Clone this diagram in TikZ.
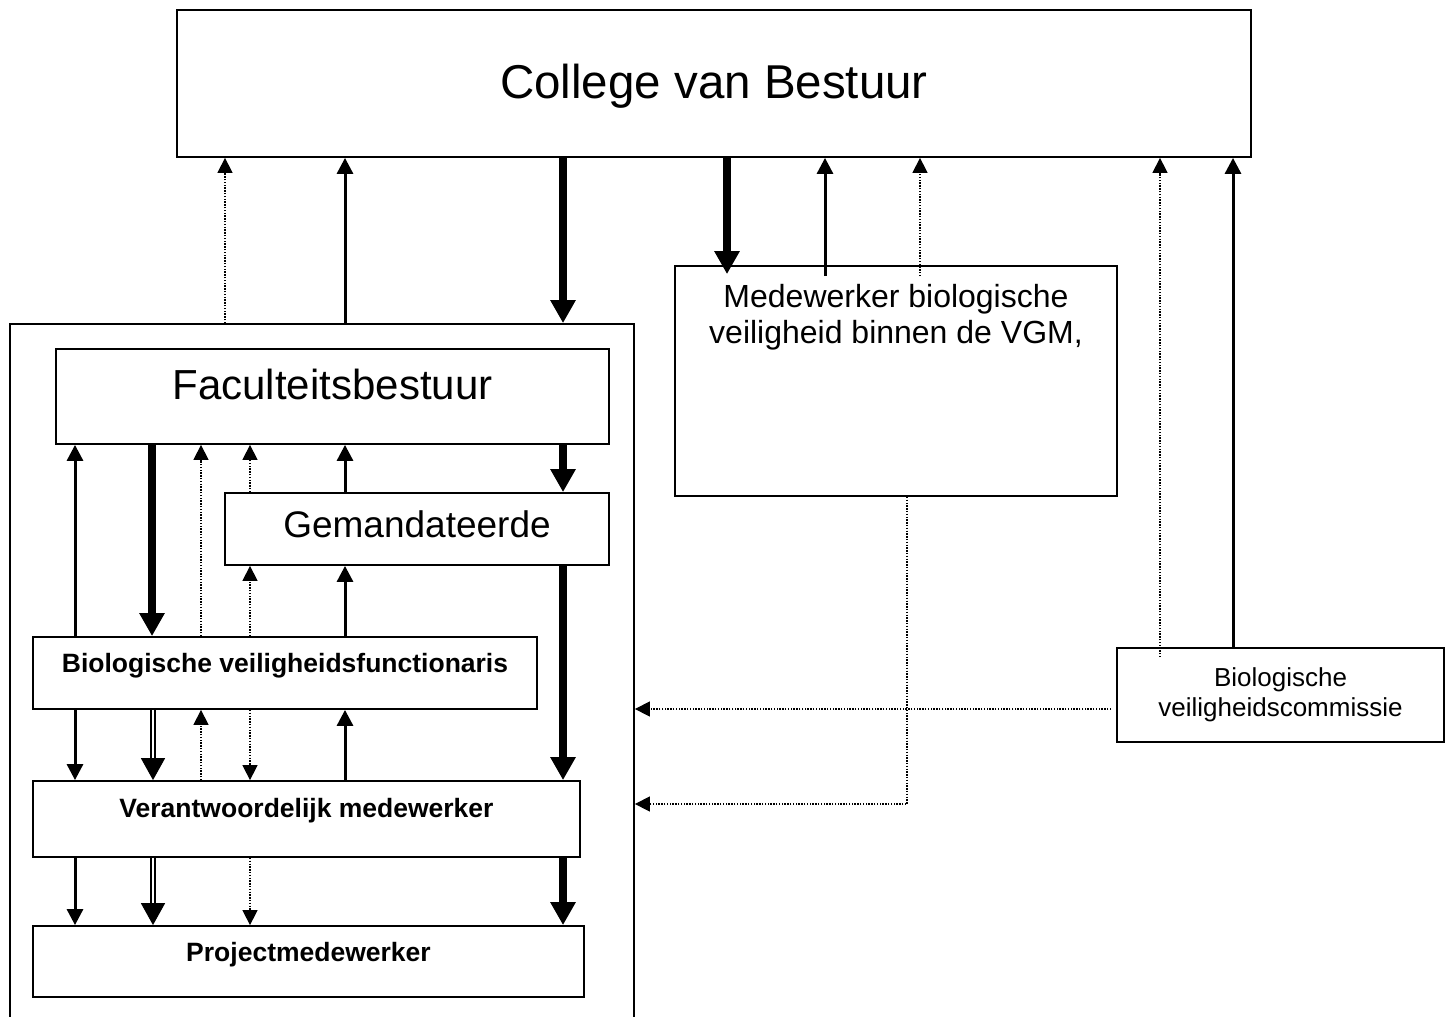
\documentclass[tikz,border=0pt]{standalone}
\usepackage{fontspec}
\setmainfont{Liberation Sans}
\usetikzlibrary{arrows.meta,calc}
\tikzset{
  box/.style={draw,line width=1.8pt,inner sep=0pt,align=center},
  hugetxt/.style={font=\fontsize{47.5}{56}\selectfont},
  bigtxt/.style={font=\fontsize{42}{50}\selectfont},
  midtxt/.style={font=\fontsize{37}{44}\selectfont},
  mwtxt/.style={font=\fontsize{32}{36}\selectfont},
  smalltxt/.style={font=\fontsize{26}{30}\selectfont},
  boldtxt/.style={font=\fontsize{26.5}{30}\selectfont\bfseries},
  plainarr/.style={-{Triangle[width=16pt,length=16pt]},line width=3pt},
  fatarr/.style={-{Triangle[width=24pt,length=23pt]},line width=7.5pt},
  dotarr/.style={-{Triangle[width=15pt,length=15pt]},line width=1.4pt,dash pattern=on 1.4pt off 1.4pt},
  twinarr/.style={-{Triangle[width=24pt,length=22pt]},double,double distance=2pt,line width=1.6pt},
}

\begin{document}
\begin{tikzpicture}[x=1pt,y=-1pt]
  \fill[white] (0,0) rectangle (1451,1017);
  \useasboundingbox (0,0) rectangle (1451,1017);

  \node[box,hugetxt,minimum width=1074pt,minimum height=147pt,text depth=4pt] (cvb) at (714,83.5) {College van Bestuur};
  \node[box,minimum width=624pt,minimum height=706pt] (outer) at (322,677) {};

  % faculteit
  \node[box,bigtxt,minimum width=553pt,minimum height=95pt,text depth=24pt] (fb) at (332.5,396.5) {Faculteitsbestuur};
  \node[box,midtxt,minimum width=384pt,minimum height=72pt,text depth=9pt] (gm) at (417,529) {Gemandateerde};
  \node[box,boldtxt,minimum width=504pt,minimum height=72pt,text depth=19.5pt] (bvf) at (285,673) {Biologische veiligheidsfunctionaris};
  \node[box,boldtxt,minimum width=547pt,minimum height=76pt,text depth=21.5pt] (vm) at (306.5,819) {Verantwoordelijk medewerker};
  \node[box,boldtxt,minimum width=551pt,minimum height=71pt,text depth=19.5pt] (pm) at (308.5,961.5) {Projectmedewerker};

  % rechts
  \node[box,minimum width=442pt,minimum height=230pt] (mw) at (896,381) {};
  \node[mwtxt,align=center,inner sep=0pt,anchor=north] (mwlabel) at ([yshift=-19pt]mw.north) {Medewerker biologische\\veiligheid binnen de VGM,};
  \node[box,smalltxt,minimum width=327pt,minimum height=94pt] (bvc) at (1280.5,695) {Biologische\\veiligheidscommissie};

  % naar college van bestuur
  \draw[dotarr] (outer.north -| 225,0) -- (cvb.south -| 225,0);
  \draw[plainarr] (outer.north -| 345,0) -- (cvb.south -| 345,0);
  \draw[fatarr] (cvb.south -| 563,0) -- (outer.north -| 563,0);
  \draw[fatarr,shorten >=-9pt] (cvb.south -| 727,0) -- (mw.north -| 727,0);
  \draw[plainarr,shorten <=-11pt] (mw.north -| 825,0) -- (cvb.south -| 825,0);
  \draw[dotarr,shorten <=-11pt] (mw.north -| 920,0) -- (cvb.south -| 920,0);
  \draw[dotarr,shorten <=-10pt] (bvc.north -| 1160,0) -- (cvb.south -| 1160,0);
  \draw[plainarr] (bvc.north -| 1233,0) -- (cvb.south -| 1233,0);
  \draw[dotarr,shorten <=5pt] (bvc.west |- 0,709) -- (outer.east |- 0,709);
  \draw[dotarr] (mw.south -| 907,0) |- (outer.east |- 0,804);

  % faculteitsbestuur - functionaris
  \draw[plainarr] (bvf.north -| 75,0) -- (fb.south -| 75,0);
  \draw[fatarr] (fb.south -| 152,0) -- (bvf.north -| 152,0);
  \draw[dotarr] (bvf.north -| 201,0) -- (fb.south -| 201,0);
  \draw[dotarr] (gm.north -| 250,0) -- (fb.south -| 250,0);
  \draw[dotarr] (bvf.north -| 250,0) -- (gm.south -| 250,0);
  \draw[plainarr] (gm.north -| 345,0) -- (fb.south -| 345,0);
  \draw[plainarr] (bvf.north -| 345,0) -- (gm.south -| 345,0);
  \draw[fatarr] (fb.south -| 563,0) -- (gm.north -| 563,0);
  \draw[fatarr] (gm.south -| 563,0) -- (vm.north -| 563,0);

  % functionaris - verantwoordelijk medewerker
  \draw[plainarr] (bvf.south -| 75,0) -- (vm.north -| 75,0);
  \draw[twinarr] (bvf.south -| 153,0) -- (vm.north -| 153,0);
  \draw[dotarr] (vm.north -| 201,0) -- (bvf.south -| 201,0);
  \draw[dotarr] (bvf.south -| 250,0) -- (vm.north -| 250,0);
  \draw[plainarr] (vm.north -| 345,0) -- (bvf.south -| 345,0);

  % verantwoordelijk medewerker - projectmedewerker
  \draw[plainarr] (vm.south -| 75,0) -- (pm.north -| 75,0);
  \draw[twinarr] (vm.south -| 153,0) -- (pm.north -| 153,0);
  \draw[dotarr] (vm.south -| 250,0) -- (pm.north -| 250,0);
  \draw[fatarr] (vm.south -| 563,0) -- (pm.north -| 563,0);
\end{tikzpicture}
\end{document}
